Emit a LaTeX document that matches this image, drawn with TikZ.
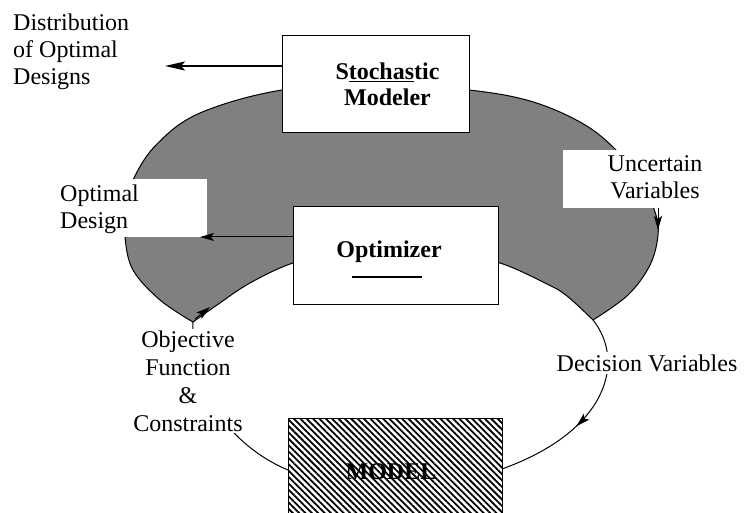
\documentclass[tikz,border=0pt]{standalone}
\usepackage{fontspec}
\setmainfont{Liberation Serif}
\usetikzlibrary{arrows.meta,patterns.meta,decorations.markings}
\definecolor{ringgray}{RGB}{128,128,128}
\begin{document}
\begin{tikzpicture}[x=1pt,y=-1pt,
  txt/.style={font=\fontsize{24}{27}\selectfont, inner sep=0pt},
  btxt/.style={font=\fontsize{24}{26}\selectfont\bfseries, inner sep=0pt, align=center},
  bx/.style={draw=black, line width=1pt, fill=white},
  edge/.style={line width=1pt},
  tiparr/.style={-{Stealth[length=14pt,width=8pt,inset=3pt]}},
  bigarr/.style={line width=2pt, -{Stealth[length=20pt,width=9pt,inset=4pt]}},
  mask/.style={fill=white}
]
\clip (0,0) rectangle (747,513);
\fill[white] (0,0) rectangle (747,513);

% named points
\coordinate (tipL) at (193,322);
\coordinate (tipR) at (593,320);

% grey ring
\fill[ringgray]
  plot[smooth, tension=0.6] coordinates {(193,322) (160,300) (133,270) (125,237) (126,208) (134,178) (157,144) (200,113) (282,90) (380,84) (469,90) (530,101) (580,122) (613,147) (640,180) (655,212) (658,235) (650,265) (628,295) (593,320)}
  -- plot[smooth, tension=0.6] coordinates {(593,320) (567,296) (547,284) (500,263) (450,253) (395,250) (340,253) (293,263) (250,283) (217,305) (193,322)}
  -- cycle;
\draw[edge]
  plot[smooth, tension=0.6] coordinates {(193,322) (160,300) (133,270) (125,237) (126,208) (134,178) (157,144) (200,113) (282,90) (380,84) (469,90) (530,101) (580,122) (613,147) (640,180) (655,212) (658,235) (650,265) (628,295) (593,320)};
\draw[edge]
  plot[smooth, tension=0.6] coordinates {(593,320) (567,296) (547,284) (500,263) (450,253) (395,250) (340,253) (293,263) (250,283) (217,305) (193,322)};

% white label panels
\fill[white] (40,179) rectangle (207,237);
\fill[white] (563,150) rectangle (712,208);

% lower loop
\coordinate (ml) at (288,470);
\coordinate (mr) at (502,469);
\draw[edge, postaction={decorate}, decoration={markings, mark=at position 0.58 with {\arrow{Stealth[length=14pt,width=8pt,inset=3pt]}}}]
  (tipR) .. controls (625,360) and (610,430) .. (mr);
\draw[edge] (ml) .. controls (240,450) and (190,400) .. (tipL);

% boxes
\node[bx, minimum width=187pt, minimum height=97pt] (sm) at (375.5,84.5) {};
\node[bx, minimum width=205pt, minimum height=97pt] (opt) at (395.5,255.5) {};
\node[draw=black, line width=1pt, fill=white, anchor=north west,
      minimum width=214pt, minimum height=110pt] (modelbg) at (288,418) {};
\node[draw=black, line width=1pt, anchor=north west,
      pattern={Lines[angle=-45,distance=4.5pt,line width=1.8pt]},
      minimum width=214pt, minimum height=110pt] (model) at (288,418) {};

% arrows
\coordinate (smout) at (282,66);
\coordinate (distin) at (165,66);
\draw[bigarr] (smout) -- (distin);
\coordinate (optout) at (293,237);
\coordinate (optin) at (200,237);
\draw[edge, tiparr] (optout) -- (optin);
\coordinate (uncA) at (658,208);
\coordinate (uncB) at (658,230);
\draw[edge, tiparr] (uncA) -- (uncB);
\coordinate (objA) at (195,319);
\coordinate (objB) at (210,307);
\draw[edge, tiparr] (objA) -- (objB);

% texts
\node[btxt] (smtxt) at (387.5,84) {S\underline{tochas}tic\\Modeler};
\node[btxt] (opttxt) at (389,252) {Optimizer};
\draw[line width=2.5pt] (352,277) -- (422,277);
\node[btxt] (modeltxt) at (391,472) {MODEL};

\node[txt, align=left, anchor=west] (dist) at (13,52) {Distribution\\of Optimal\\Designs};
\node[txt, align=left, anchor=west] (optd) at (60,209) {Optimal\\Design};
\node[txt, align=center] (unc) at (655,177) {Uncertain\\Variables};
\node[txt, mask, inner sep=2pt] (dec) at (647,363) {Decision Variables};
\node[txt, mask, inner sep=2pt, align=center, font=\fontsize{24}{28}\selectfont] (obj) at (188,381) {Objective\\Function\\\&\\Constraints};
\end{tikzpicture}
\end{document}
